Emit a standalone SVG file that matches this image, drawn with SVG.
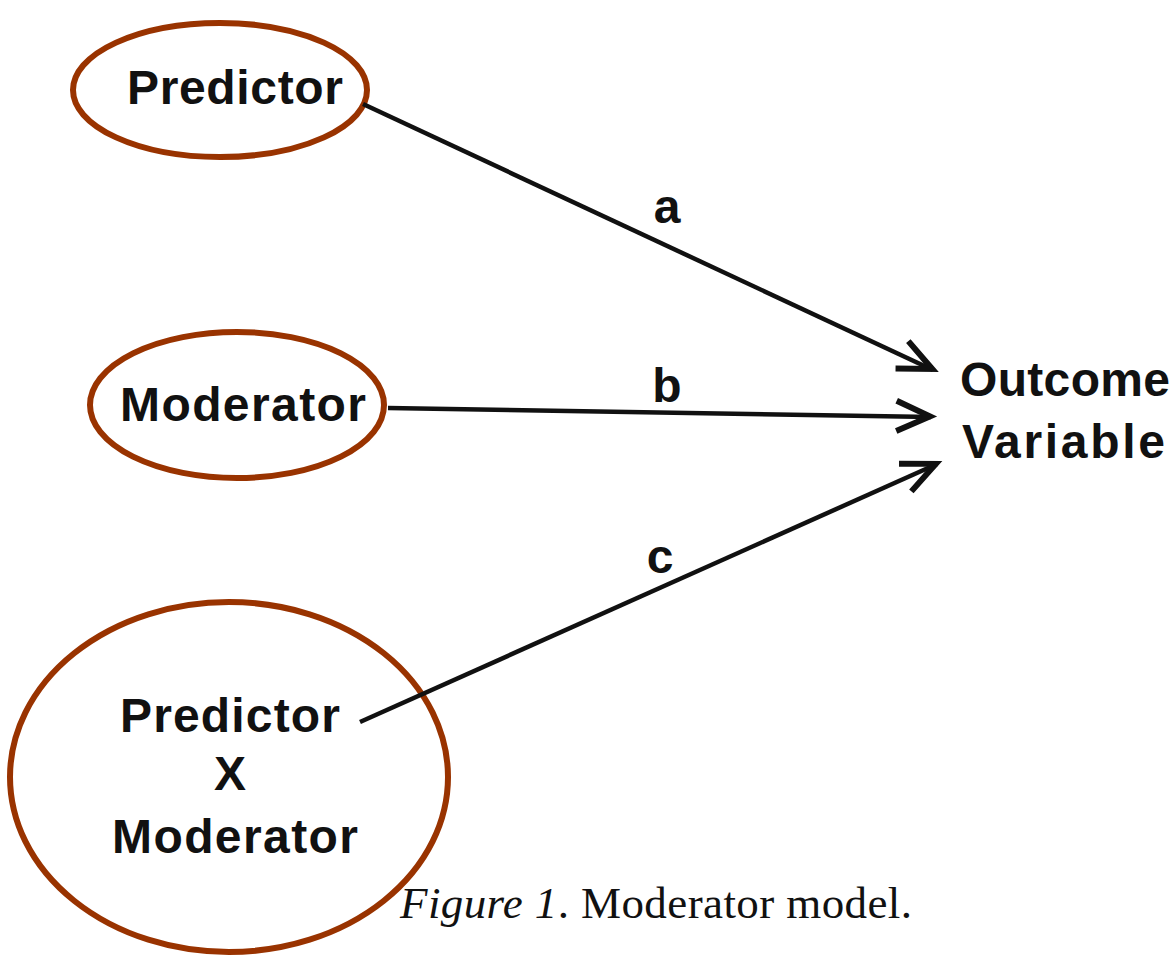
<svg xmlns="http://www.w3.org/2000/svg" width="1176" height="957" viewBox="0 0 1176 957">
<style>
.node{fill:#fff;stroke:#993300;stroke-width:6}
.lbl{font-family:"Liberation Sans",Arial,sans-serif;font-weight:bold;fill:#111;font-size:48px}
.edge{stroke:#111;stroke-width:4.5;fill:none;marker-end:url(#arr)}
.cap{font-family:"Liberation Serif","Times New Roman",serif;fill:#111;font-size:45px}
</style>
<defs>
<marker id="arr" markerWidth="12" markerHeight="12" refX="9" refY="5" orient="auto" markerUnits="userSpaceOnUse" viewBox="0 0 10 10" overflow="visible">
<path d="M-22,-9 L9,5 L-22,19" fill="none" stroke="#111" stroke-width="5.5" stroke-linejoin="miter" transform="scale(0.9)"/>
</marker>
</defs>
<rect width="1176" height="957" fill="#fff"/>
<g id="node-predictor">
<ellipse class="node" cx="220" cy="90" rx="147" ry="67"/>
<text class="lbl" x="127" y="104" textLength="216">Predictor</text>
</g>
<g id="node-moderator">
<ellipse class="node" cx="237" cy="405" rx="147" ry="73"/>
<text class="lbl" x="120" y="421" textLength="246">Moderator</text>
</g>
<g id="node-interaction">
<ellipse class="node" cx="229" cy="777" rx="219" ry="175"/>
<text class="lbl" x="120" y="732" textLength="220">Predictor</text>
<text class="lbl" x="230" y="790" text-anchor="middle">X</text>
<text class="lbl" x="112" y="853" textLength="246">Moderator</text>
</g>
<g id="node-outcome">
<text class="lbl" x="960" y="396" textLength="210">Outcome</text>
<text class="lbl" x="962" y="458" textLength="203">Variable</text>
</g>
<g id="connectors">
<line class="edge" x1="363" y1="104" x2="933" y2="370"/>
<line class="edge" x1="388" y1="408" x2="931" y2="417"/>
<line class="edge" x1="360" y1="722" x2="937" y2="464"/>
<text class="lbl" x="667" y="223" text-anchor="middle">a</text>
<text class="lbl" x="667" y="402" text-anchor="middle">b</text>
<text class="lbl" x="660" y="573" text-anchor="middle">c</text>
</g>
<g id="caption">
<text class="cap" x="400" y="918" textLength="512"><tspan font-style="italic">Figure 1</tspan>. Moderator model.</text>
</g>
</svg>
